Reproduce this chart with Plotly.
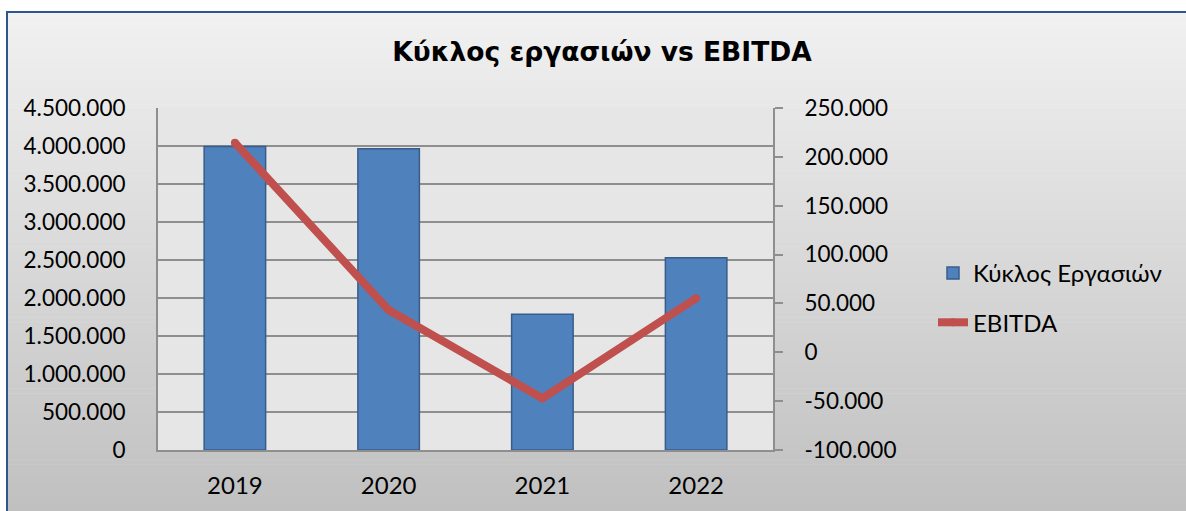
import plotly.graph_objects as go

# ---- data ----
years = ["2019", "2020", "2021", "2022"]
turnover = [3995000, 3965000, 1785000, 2530000]
ebitda = [214500, 43300, -47100, 55300]

left_ticks = [0, 500000, 1000000, 1500000, 2000000, 2500000, 3000000, 3500000, 4000000, 4500000]
left_labels = ["0", "500.000", "1.000.000", "1.500.000", "2.000.000", "2.500.000",
               "3.000.000", "3.500.000", "4.000.000", "4.500.000"]
right_ticks = [-100000, -50000, 0, 50000, 100000, 150000, 200000, 250000]
right_labels = ["-100.000", "-50.000", "0", "50.000", "100.000", "150.000", "200.000", "250.000"]

title_text = "Κύκλος εργασιών vs EBITDA"
bar_name = "Κύκλος Εργασιών"
line_name = "EBITDA"

# ---- layout geometry (pixels) ----
W, H = 1186, 511
L, R, T, B = 158, 1186 - 773, 108, 511 - 450
PW, PH = W - L - R, H - T - B

def px_x(x):
    return (x - L) / PW

def px_y(y):
    return (H - B - y) / PH

FONT = "Lato"
GRID = "#8E8E8E"
TICKFONT = dict(family=FONT, size=22.5, color="black")

fig = go.Figure()
fig.add_trace(go.Bar(
    x=years, y=turnover, name=bar_name,
    marker=dict(color="#4F81BD", line=dict(color="#385D8A", width=1.5)),
    legendgroup="a", yaxis="y",
))
fig.add_trace(go.Scatter(
    x=years, y=ebitda, name=line_name, mode="lines+markers",
    line=dict(color="#C0504D", width=8),
    marker=dict(color="#C0504D", size=8, line=dict(width=0)),
    legendgroup="b", yaxis="y2",
))

# background gradient bands
shapes = []
top_y, bot_y = 13, 520
n = 100
c_top, c_bot = 241, 191
for i in range(n):
    y0 = top_y + (bot_y - top_y) * i / n
    y1 = top_y + (bot_y - top_y) * (i + 1) / n + 0.6
    c = round(c_top + (c_bot - c_top) * (i + 0.5) / n)
    col = f"rgb({c},{c},{c})"
    shapes.append(dict(type="rect", xref="paper", yref="paper", layer="below",
                       x0=px_x(8), x1=px_x(1200), y0=px_y(y0), y1=px_y(y1),
                       fillcolor=col, line=dict(width=0)))
# plot area background
shapes.append(dict(type="rect", xref="paper", yref="paper", layer="below",
                   x0=0, x1=1, y0=0, y1=1, fillcolor="#E6E6E6", line=dict(width=0)))
# outer blue border
shapes.append(dict(type="rect", xref="paper", yref="paper", layer="below",
                   x0=px_x(7), x1=px_x(1200), y0=px_y(12), y1=px_y(530),
                   fillcolor="rgba(0,0,0,0)", line=dict(color="#2B5690", width=2)))

fig.update_layout(
    width=W, height=H,
    margin=dict(l=L, r=R, t=T, b=B, pad=0, autoexpand=False),
    paper_bgcolor="white",
    plot_bgcolor="rgba(0,0,0,0)",
    font=dict(family=FONT, size=24, color="black"),
    title=dict(text=title_text, x=602 / W, xanchor="center", xref="container",
               y=1 - 52 / H, yanchor="middle", yref="container",
               font=dict(family="DejaVu Sans", size=26.5, color="black", weight="bold")),
    bargap=0.6,
    showlegend=True,
    legend=dict(x=px_x(933), y=px_y(251), xanchor="left", yanchor="top",
                bgcolor="rgba(0,0,0,0)", tracegroupgap=15,
                font=dict(family=FONT, size=24, color="black")),
    shapes=shapes,
    xaxis=dict(type="category", showgrid=False, showline=True, linecolor=GRID, linewidth=2,
               ticks="", ticklabelstandoff=13, zeroline=False, mirror=False,
               automargin=False, tickfont=dict(family=FONT, size=24, color="black")),
    yaxis=dict(range=[0, 4500000], tickvals=left_ticks, ticktext=left_labels,
               showgrid=True, gridcolor=GRID, gridwidth=1.5,
               showline=True, linecolor=GRID, linewidth=2, ticks="",
               ticklabelstandoff=26, zeroline=False, automargin=False,
               tickfont=TICKFONT),
    yaxis2=dict(range=[-100000, 250000], tickvals=right_ticks, ticktext=right_labels,
                overlaying="y", side="right", showgrid=False,
                showline=True, linecolor=GRID, linewidth=2,
                ticks="outside", ticklen=8, tickcolor=GRID, tickwidth=2,
                ticklabelstandoff=17, zeroline=False, automargin=False,
                tickfont=TICKFONT),
)

fig.write_html("out.html", config={"displayModeBar": False},
               post_script="document.body.style.margin='0';")
